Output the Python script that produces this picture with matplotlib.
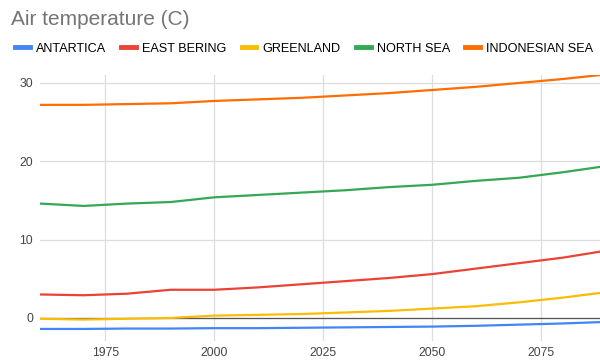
import matplotlib
matplotlib.use("Agg")
import matplotlib.pyplot as plt

years = [1960, 1970, 1980, 1990, 2000, 2010, 2020, 2030, 2040, 2050, 2060, 2070, 2080, 2090]
antartica = [-1.4, -1.4, -1.35, -1.35, -1.3, -1.3, -1.25, -1.2, -1.15, -1.1, -1.0, -0.85, -0.7, -0.5]
east_bering = [3.0, 2.9, 3.1, 3.6, 3.6, 3.9, 4.3, 4.7, 5.1, 5.6, 6.3, 7.0, 7.7, 8.6]
greenland = [-0.1, -0.2, -0.1, 0.0, 0.3, 0.4, 0.5, 0.7, 0.9, 1.2, 1.5, 2.0, 2.6, 3.3]
north_sea = [14.6, 14.3, 14.6, 14.8, 15.4, 15.7, 16.0, 16.3, 16.7, 17.0, 17.5, 17.9, 18.6, 19.4]
indonesian_sea = [27.2, 27.2, 27.3, 27.4, 27.7, 27.9, 28.1, 28.4, 28.7, 29.1, 29.5, 30.0, 30.5, 31.1]

series = [
    ("ANTARTICA", antartica, "#4285F4"),
    ("EAST BERING", east_bering, "#EA4335"),
    ("GREENLAND", greenland, "#FBBC04"),
    ("NORTH SEA", north_sea, "#34A853"),
    ("INDONESIAN SEA", indonesian_sea, "#FF6D01"),
]

plt.rcParams['font.family'] = ['Liberation Sans', 'DejaVu Sans']

fig = plt.figure(figsize=(6, 3.62), dpi=100)
ax = fig.add_axes([0.0667, 0.058, 0.9333, 0.735])

ax.axhline(0, color="#555555", lw=0.9, zorder=1)
for name, vals, col in series:
    ax.plot(years, vals, color=col, lw=1.6, label=name, zorder=3)

ax.set_xlim(1960, 2088.5)
ax.set_ylim(-2.94, 31.02)
ax.set_xticks([1975, 2000, 2025, 2050, 2075])
ax.set_yticks([0, 10, 20, 30])
ax.grid(True, color="#dddddd", lw=0.9)
ax.set_axisbelow(True)
for s in ax.spines.values():
    s.set_visible(False)
ax.tick_params(length=0, labelsize=8.8, labelcolor="#444444")
ax.tick_params(axis="y", pad=5)
ax.tick_params(axis="x", pad=4)

fig.text(0.018, 0.931, "Air temperature (C)", fontsize=15, color="#757575", va="baseline")
fig.legend(loc="center left", bbox_to_anchor=(0.025, 0.865), ncol=5, frameon=False,
           fontsize=9.1, handlelength=1.18, handletextpad=0.47, columnspacing=1.2,
           borderaxespad=0, borderpad=0)
for line in fig.legends[0].get_lines():
    line.set_linewidth(3.5)

fig.savefig("out.png", dpi=100)
